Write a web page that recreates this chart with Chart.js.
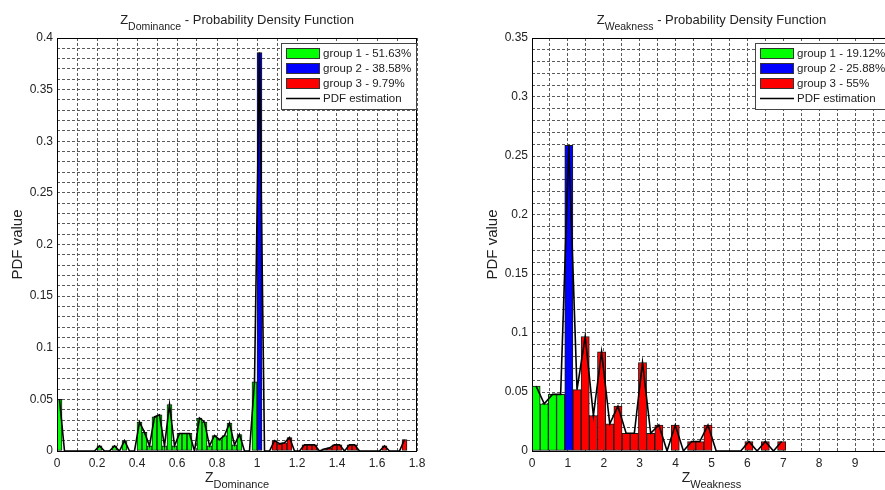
<!DOCTYPE html>
<html>
<head>
<meta charset="utf-8">
<title>Z Dominance / Z Weakness - PDF</title>
<script src="https://cdn.jsdelivr.net/npm/chart.js@4.4.1/dist/chart.umd.min.js"></script>
<style>
  html, body { margin: 0; padding: 0; background: #fff; overflow: hidden; }
  #wrap { position: relative; width: 885px; height: 490px; overflow: hidden; }
  canvas { position: absolute; top: 0; }
  #domChart { left: 0; }
  #weakChart { left: 445px; }
</style>
</head>
<body>
<div id="wrap">
  <canvas id="domChart" width="445" height="490"></canvas>
  <canvas id="weakChart" width="460" height="490"></canvas>
</div>
<script>
// values (fraction of samples per bin)

// Z_Dominance: bins of 0.025 starting at 0
const domBinWidth = 0.025;
const domGroup1 = [
  0.05, 0, 0, 0, 0, 0, 0, 0, 0.005, 0,
  0, 0.005, 0, 0.01, 0, 0, 0.028, 0.018, 0.005, 0.033,
  0.035, 0.005, 0.045, 0.005, 0.017, 0.017, 0.017, 0, 0.032, 0.028,
  0.005, 0.015, 0.011, 0.015, 0.027, 0.006, 0.016, 0, 0, 0.067
];
const domGroup2 = [0.386];
const domGroup3 = [
  0, 0, 0.01, 0.007, 0.008, 0.013, 0, 0, 0.006, 0.006,
  0.006, 0, 0.002, 0.003, 0.006, 0.006, 0, 0.006, 0.006, 0,
  0, 0, 0, 0, 0.005, 0, 0, 0, 0.011
];
const domLabels = ["group 1 - 51.63%", "group 2 - 38.58%", "group 3 - 9.79%"];
const domXTicks = [0, 0.2, 0.4, 0.6, 0.8, 1, 1.2, 1.4, 1.6, 1.8];
const domYTicks = [0, 0.05, 0.1, 0.15, 0.2, 0.25, 0.3, 0.35, 0.4];

// Z_Weakness: bins of 0.228 starting at 0
const weakBinWidth = 0.228;
const weakGroup1 = [0.055, 0.04, 0.048, 0.048];
const weakGroup2 = [0.259];
const weakGroup3 = [
  0.052, 0.097, 0.03, 0.084, 0.023, 0.038, 0.015, 0.015, 0.075, 0.015,
  0.022, 0, 0.022, 0, 0.008, 0.008, 0.022, 0, 0, 0,
  0, 0.008, 0, 0.008, 0, 0.008
];
const weakLabels = ["group 1 - 19.12%", "group 2 - 25.88%", "group 3 - 55%"];
const weakXTicks = [0, 1, 2, 3, 4, 5, 6, 7, 8, 9, 10];
const weakYTicks = [0, 0.05, 0.1, 0.15, 0.2, 0.25, 0.3, 0.35];

const groupColors = ["#00ff00", "#0000ff", "#ff0000"];
const FONT = "'Liberation Sans', Arial, Helvetica, sans-serif";
const TEXT = "#222";

Chart.defaults.font.family = FONT;
Chart.defaults.color = TEXT;

function toPoints(values, firstBin, width) {
  return values.map((v, i) => ({ x: (firstBin + i + 0.5) * width, y: v }));
}

function labelFor(list) {
  return (v) => {
    const t = list.find(t => Math.abs(t - v) < 1e-9);
    return t === undefined ? "" : String(t);
  };
}

// titles, axis box and legend drawn over the chart
const decor = {
  id: "decor",
  afterDraw(chart, args, o) {
    const { ctx, chartArea: a } = chart;
    ctx.save();

    // axes box
    ctx.strokeStyle = "#000";
    ctx.lineWidth = 1;
    ctx.strokeRect(a.left + 0.5, a.top + 0.5, a.right - a.left - 1, a.bottom - a.top);

    const subText = (cx, base, main, sub, rest, mainSize, subSize) => {
      ctx.font = mainSize + "px " + FONT;
      const w1 = ctx.measureText(main).width;
      const w3 = rest ? ctx.measureText(rest).width : 0;
      ctx.font = subSize + "px " + FONT;
      const w2 = ctx.measureText(sub).width;
      let x = cx - (w1 + w2 + w3) / 2;
      ctx.fillStyle = TEXT;
      ctx.textAlign = "left";
      ctx.textBaseline = "alphabetic";
      ctx.font = mainSize + "px " + FONT;
      ctx.fillText(main, x, base);
      x += w1;
      ctx.font = subSize + "px " + FONT;
      ctx.fillText(sub, x, base + 5.5);
      x += w2;
      if (rest) {
        ctx.font = mainSize + "px " + FONT;
        ctx.fillText(rest, x, base);
      }
    };
    const cx = (a.left + a.right) / 2;
    subText(cx, 24, "Z", o.sub, " - Probability Density Function", 13, 10.5);
    subText(cx, 482, "Z", o.sub, "", 14, 11);

    // y title
    ctx.save();
    ctx.translate(a.left - 39, (a.top + a.bottom) / 2);
    ctx.rotate(-Math.PI / 2);
    ctx.font = "15px " + FONT;
    ctx.textAlign = "center";
    ctx.textBaseline = "middle";
    ctx.fillStyle = TEXT;
    ctx.fillText("PDF value", 0, 0);
    ctx.restore();

    // legend
    const bw = 135, bh = 66;
    const bx = a.right - 1 - bw, by = a.top + 5;
    ctx.fillStyle = "#fff";
    ctx.fillRect(bx, by, bw, bh);
    ctx.strokeStyle = "#444";
    ctx.strokeRect(bx + 0.5, by + 0.5, bw, bh);
    ctx.font = "11.5px " + FONT;
    ctx.textBaseline = "middle";
    ctx.textAlign = "left";
    const items = chart.data.datasets.filter(d => d.legendLabel);
    items.sort((p, q) => p.legendIndex - q.legendIndex);
    items.forEach((d, i) => {
      const yc = by + 10 + i * 15;
      const sx = bx + 5;
      if (d.type === "line") {
        ctx.strokeStyle = "#000";
        ctx.lineWidth = 1.6;
        ctx.beginPath();
        ctx.moveTo(sx, yc + 0.5);
        ctx.lineTo(sx + 34, yc + 0.5);
        ctx.stroke();
      } else {
        ctx.fillStyle = d.backgroundColor;
        ctx.fillRect(sx, yc - 5, 34, 10);
        ctx.strokeStyle = "#333";
        ctx.lineWidth = 1;
        ctx.strokeRect(sx + 0.5, yc - 4.5, 33, 10);
      }
      ctx.fillStyle = TEXT;
      ctx.fillText(d.legendLabel, sx + 37, yc + 1);
    });
    ctx.restore();
  }
};

function buildChart(id, o) {
  const g1 = toPoints(o.groups[0], 0, o.binWidth);
  const g2 = toPoints(o.groups[1], o.groups[0].length, o.binWidth);
  const g3 = toPoints(o.groups[2], o.groups[0].length + o.groups[1].length, o.binWidth);
  const bars = [g1, g2, g3].map((pts, i) => ({
    type: "bar",
    legendLabel: o.labels[i],
    legendIndex: i,
    data: pts,
    backgroundColor: groupColors[i],
    borderColor: "#1a1a1a",
    borderWidth: 1,
    borderSkipped: false,
    grouped: false,
    barPercentage: 1,
    categoryPercentage: 1,
    order: 2
  }));
  const line = {
    type: "line",
    legendLabel: "PDF estimation",
    legendIndex: 3,
    data: g1.concat(g2, g3),
    borderColor: "#000",
    borderWidth: 1.6,
    pointRadius: 0,
    tension: 0,
    fill: false,
    order: 1
  };
  const grid = { color: "#5a5a5a", lineWidth: 1, drawTicks: false, offset: false };
  return new Chart(document.getElementById(id), {
    data: { datasets: bars.concat([line]) },
    options: {
      responsive: false,
      animation: false,
      events: [],
      devicePixelRatio: 1,
      layout: { padding: { top: 38, right: o.padRight, left: 0, bottom: 0 } },
      plugins: { legend: { display: false }, tooltip: { enabled: false }, decor: { sub: o.sub } },
      scales: {
        x: {
          type: "linear",
          offset: false,
          min: o.xMax[0], max: o.xMax[1],
          grid: grid,
          border: { display: false, dash: [3, 2] },
          ticks: { stepSize: o.xStep, autoSkip: false, maxRotation: 0, padding: 5,
                   font: { size: 12 }, callback: labelFor(o.xTicks) },
          afterFit: s => { s.height = 39; }
        },
        y: {
          type: "linear",
          min: 0, max: o.yMax,
          grid: grid,
          border: { display: false, dash: [3, 2] },
          ticks: { stepSize: 0.01, autoSkip: false, padding: 4,
                   font: { size: 12 }, callback: labelFor(o.yTicks) },
          afterFit: s => { s.width = o.yWidth; }
        }
      }
    },
    plugins: [decor]
  });
}

buildChart("domChart", {
  groups: [domGroup1, domGroup2, domGroup3],
  labels: domLabels,
  binWidth: domBinWidth,
  sub: "Dominance",
  xMax: [0, 1.8], xStep: 0.1, xTicks: domXTicks,
  yMax: 0.4, yTicks: domYTicks,
  yWidth: 57, padRight: 28
});

buildChart("weakChart", {
  groups: [weakGroup1, weakGroup2, weakGroup3],
  labels: weakLabels,
  binWidth: weakBinWidth,
  sub: "Weakness",
  xMax: [0, 10], xStep: 0.5, xTicks: weakXTicks,
  yMax: 0.35, yTicks: weakYTicks,
  yWidth: 87, padRight: 14
});
</script>
</body>
</html>
